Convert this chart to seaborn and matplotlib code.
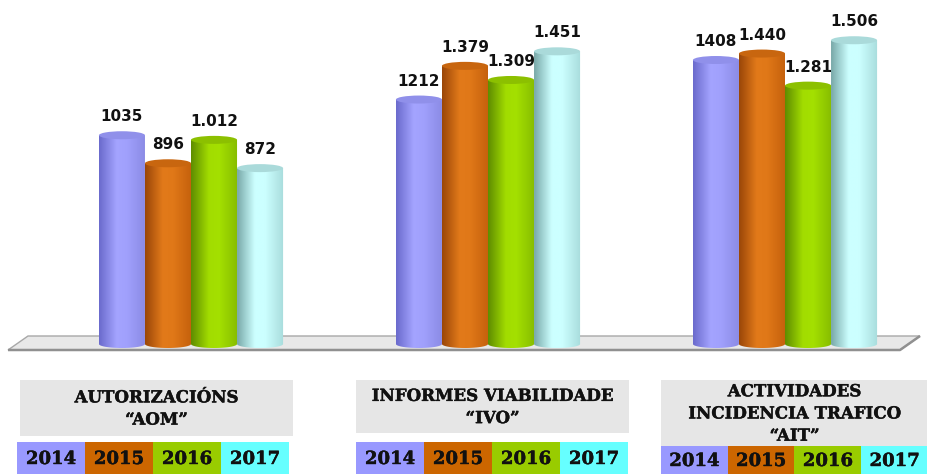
import numpy as np
import pandas as pd
import matplotlib
matplotlib.use("Agg")
import matplotlib.pyplot as plt
import matplotlib.patheffects as pe
import seaborn as sns
from matplotlib.colors import LinearSegmentedColormap
from matplotlib.patches import Ellipse, Polygon, Rectangle
from matplotlib.path import Path

# ---------------- data ----------------
categories = ["AOM", "IVO", "AIT"]
years = ["2014", "2015", "2016", "2017"]
values_2014 = [1035, 1212, 1408]
values_2015 = [896, 1379, 1440]
values_2016 = [1012, 1309, 1281]
values_2017 = [872, 1451, 1506]
labels_2014 = ["1035", "1212", "1408"]
labels_2015 = ["896", "1.379", "1.440"]
labels_2016 = ["1.012", "1.309", "1.281"]
labels_2017 = ["872", "1.451", "1.506"]
group_titles = ["AUTORIZACIÓNS\n“AOM”",
                "INFORMES VIABILIDADE\n“IVO”",
                "ACTIVIDADES\nINCIDENCIA TRAFICO\n“AIT”"]

values = [values_2014, values_2015, values_2016, values_2017]
labels = [labels_2014, labels_2015, labels_2016, labels_2017]

# ---------------- styles ----------------
bar_stops = [
    ["#6A6ACC", "#A4A4FF", "#A0A0FC", "#8A8AE4"],
    ["#9A4608", "#E27A1A", "#E07818", "#C4600C"],
    ["#5E8C00", "#A2DC00", "#A4E000", "#86BC00"],
    ["#78A8A8", "#CCFFFF", "#CCFFFF", "#A8DCDC"],
]
stop_pos = [0.0, 0.38, 0.6, 1.0]
cap_colors = ["#9090EA", "#C8660F", "#8CC000", "#AADADA"]
mid_colors = ["#A0A0F8", "#E07818", "#A0D800", "#CCFFFF"]
legend_colors = ["#9999FF", "#CC6600", "#99CC00", "#66FFFF"]

df = pd.DataFrame({
    "category": pd.Categorical(np.repeat([categories], 4, axis=0).ravel(), categories=categories),
    "year": pd.Categorical(np.repeat(years, 3), categories=years),
    "value": np.concatenate(values),
})

W, H = 928, 474
fig = plt.figure(figsize=(W / 100, H / 100), dpi=100)

# background overlay in pixel coordinates
bg = fig.add_axes([0, 0, 1, 1], zorder=0)
bg.set_xlim(0, W)
bg.set_ylim(H, 0)
bg.axis("off")

# floor plate
floor = Polygon([(28, 336), (920, 336), (900, 350), (8, 350)], closed=True,
                facecolor="#E8E8E8", edgecolor="#A8A8A8", lw=1.0)
bg.add_patch(floor)
bg.plot([8, 900, 920], [350, 350, 336], color="#909090", lw=1.8, solid_capstyle="butt")

# main axes (data)
unit_px = 0.2017
y0, y1 = -60, 1700
base_px = 344
bottom_from_top = base_px - y0 * unit_px
height_px = (y1 - y0) * unit_px
ax = fig.add_axes([0, (H - bottom_from_top) / H, 1, height_px / H], zorder=1)
ax.patch.set_alpha(0)

sns.barplot(data=df, x="category", y="value", hue="year", hue_order=years,
            palette=mid_colors, width=0.62, errorbar=None, legend=False, ax=ax)

xc0, xsp = 191, 297
ax.set_xlim(-xc0 / xsp, (W - xc0) / xsp)
ax.set_ylim(y0, y1)

eh = 8 / unit_px  # ellipse height in data units
grad = np.linspace(0, 1, 256).reshape(1, -1)
for yi, cont in enumerate(ax.containers):
    cmap = LinearSegmentedColormap.from_list(f"c{yi}", list(zip(stop_pos, bar_stops[yi])))
    for ci, bar in enumerate(cont):
        x = bar.get_x()
        w = bar.get_width()
        h = bar.get_height()
        cx = x + w / 2
        bar.set_visible(False)
        t = np.linspace(np.pi, 2 * np.pi, 40)
        pts = [(x, h), (x, 0)] + [(cx + w / 2 * np.cos(a), eh / 2 * np.sin(a)) for a in t] + [(x + w, h), (x, h)]
        path = Path(pts)
        im = ax.imshow(grad, cmap=cmap, extent=(x, x + w, -eh / 2, h), aspect="auto",
                       origin="lower", zorder=2, interpolation="bilinear")
        im.set_clip_path(path, transform=ax.transData)
        cap = Ellipse((cx, h), w, eh, facecolor=cap_colors[yi], edgecolor="none", zorder=3)
        ax.add_patch(cap)
        ax.annotate(labels[yi][ci], (cx, h), xytext=(0, 10), textcoords="offset points",
                    ha="center", va="baseline", fontsize=11, fontweight="bold",
                    family="DejaVu Sans", color="#111111", zorder=4)

ax.set_xlim(-xc0 / xsp, (W - xc0) / xsp)
ax.set_ylim(y0, y1)
ax.axis("off")

# label boxes
heavy = [pe.withStroke(linewidth=0.3, foreground="#111111")]
grey_boxes = [(20, 380, 293, 436), (356, 380, 629, 433), (661, 380, 928, 446)]
year_rows = [(17, 442, 289, 474), (356, 442, 628, 474), (661, 446, 928, 474)]
for gi in range(3):
    gx0, gy0, gx1, gy1 = grey_boxes[gi]
    bg.add_patch(Rectangle((gx0, gy0), gx1 - gx0, gy1 - gy0, facecolor="#E6E6E6", edgecolor="none"))
    bg.text((gx0 + gx1) / 2, (gy0 + gy1) / 2 + 1, group_titles[gi], ha="center", va="center",
            multialignment="center", fontsize=12, fontweight="bold", family="DejaVu Serif",
            linespacing=1.4, color="#111111", path_effects=heavy)
    rx0, ry0, rx1, ry1 = year_rows[gi]
    cw = (rx1 - rx0) / 4
    for yi, yr in enumerate(years):
        bg.add_patch(Rectangle((rx0 + yi * cw, ry0), cw, ry1 - ry0, facecolor=legend_colors[yi],
                               edgecolor="none"))
        bg.text(rx0 + (yi + 0.5) * cw, (ry0 + ry1) / 2 + 1, yr, ha="center", va="center",
                fontsize=13, fontweight="bold", family="DejaVu Serif", color="#111111",
                path_effects=heavy)

fig.savefig("out.png", dpi=100)
